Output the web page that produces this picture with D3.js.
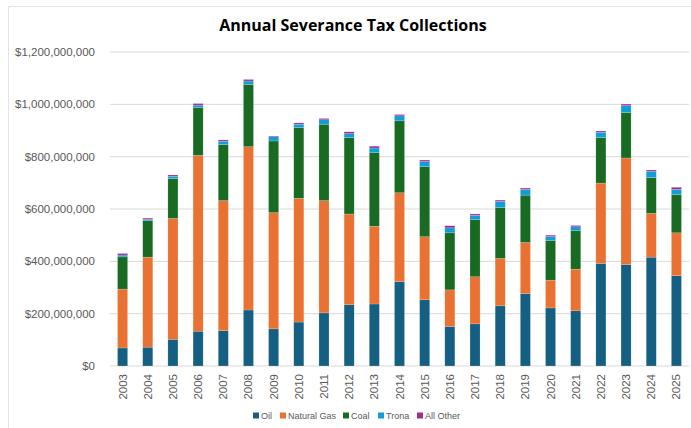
<!DOCTYPE html>
<html>
<head>
<meta charset="utf-8">
<script src="https://cdn.jsdelivr.net/npm/d3@7"></script>
<style>
  body { margin: 0; background: #fff; }
  text { font-family: "Liberation Sans", Arial, sans-serif; }
</style>
</head>
<body>
<div id="chart"></div>
<script>
// values in millions of dollars
var years = ["2003","2004","2005","2006","2007","2008","2009","2010","2011","2012","2013","2014",
             "2015","2016","2017","2018","2019","2020","2021","2022","2023","2024","2025"];
var oil      = [69, 72, 102, 133, 135, 214, 142, 168, 203, 234, 237, 322, 253, 151, 161, 230, 277, 222, 211, 392, 388, 416, 345];
var naturalGas = [225, 344, 462, 672, 497, 624, 444, 473, 429, 347, 297, 340, 241, 140, 180, 181, 195, 106, 159, 307, 407, 167, 164];
var coal     = [123, 139, 152, 183, 214, 238, 274, 270, 292, 292, 281, 275, 268, 218, 218, 195, 181, 152, 147, 174, 174, 137, 146];
var trona    = [7, 5, 9, 9, 13, 13, 16, 13, 17, 15, 18, 19, 19, 19, 17, 23, 22, 15, 15, 20, 26, 24, 20];
var allOther = [6, 5, 5, 6, 5, 6, 3, 5, 5, 7, 7, 5, 6, 8, 5, 5, 5, 5, 5, 5, 6, 5, 8];
var seriesNames = ["Oil", "Natural Gas", "Coal", "Trona", "All Other"];
var seriesColors = ["#156082", "#e97132", "#196b24", "#0f9ed5", "#a02b93"];
var yTicks = [0, 200, 400, 600, 800, 1000, 1200];

var W = 691, H = 428;
var margin = {top: 52, right: 2, bottom: 62, left: 110};
var width = W - margin.left - margin.right,
    height = H - margin.top - margin.bottom;

var svg = d3.select("#chart").append("svg")
  .attr("width", W).attr("height", H);

// chart frame
svg.append("path").attr("d", "M8.5," + H + "V6.5H" + W)
  .style("fill", "none").style("stroke", "#e3e3e3");

svg.append("text")
  .attr("x", 353).attr("y", 31)
  .attr("text-anchor", "middle")
  .style("font-family", "'Open Sans', sans-serif")
  .style("font-weight", "bold").style("font-size", "16px").style("fill", "#000")
  .text("Annual Severance Tax Collections");

var g = svg.append("g")
  .attr("transform", "translate(" + margin.left + "," + margin.top + ")");

var x = d3.scaleBand().domain(years).range([0, width]).paddingInner(0.6).paddingOuter(0.3);
var y = d3.scaleLinear().domain([0, 1200]).range([height, 0]);

// gridlines
g.selectAll(".grid").data(yTicks).enter().append("line")
  .attr("x1", 0).attr("x2", width)
  .attr("y1", function(d){ return y(d); }).attr("y2", function(d){ return y(d); })
  .style("stroke", "#d9d9d9").style("stroke-width", 1);

// y labels
var fmt = d3.format(",");
g.selectAll(".ylab").data(yTicks).enter().append("text")
  .attr("x", -15).attr("y", function(d){ return y(d); })
  .attr("dy", "0.35em").attr("text-anchor", "end")
  .style("font-size", "11.5px").style("fill", "#595959")
  .text(function(d){ return "$" + fmt(d * 1000000); });

// stack
var rows = years.map(function(yr, i) {
  return {year: yr, "Oil": oil[i], "Natural Gas": naturalGas[i], "Coal": coal[i], "Trona": trona[i], "All Other": allOther[i]};
});
var stacked = d3.stack().keys(seriesNames)(rows);

g.selectAll(".layer").data(stacked).enter().append("g")
  .style("fill", function(d, i){ return seriesColors[i]; })
  .selectAll("rect").data(function(d){ return d; }).enter().append("rect")
    .attr("x", function(d){ return x(d.data.year); })
    .attr("width", x.bandwidth())
    .attr("y", function(d){ return y(d[1]); })
    .attr("height", function(d){ return y(d[0]) - y(d[1]); })
    .style("stroke", "#ffffff").style("stroke-opacity", 0.35).style("stroke-width", 0.5);

// x labels
g.selectAll(".xlab").data(years).enter().append("text")
  .attr("transform", function(d){ return "translate(" + (x(d) + x.bandwidth() / 2 + 4) + "," + (height + 8) + ") rotate(-90)"; })
  .attr("text-anchor", "end")
  .style("font-size", "11.5px").style("fill", "#595959")
  .text(function(d){ return d; });

// legend
var legendX = [253, 280, 343, 378, 417];
var legend = svg.selectAll(".leg").data(seriesNames).enter().append("g")
  .attr("transform", function(d, i){ return "translate(" + legendX[i] + ",416)"; });
legend.append("rect").attr("x", 0).attr("y", -3.5).attr("width", 6).attr("height", 6)
  .style("fill", function(d, i){ return seriesColors[i]; });
legend.append("text").attr("x", 8).attr("y", 0).attr("dy", "0.35em")
  .style("font-size", "9px").style("fill", "#595959")
  .text(function(d){ return d; });
</script>
</body>
</html>
